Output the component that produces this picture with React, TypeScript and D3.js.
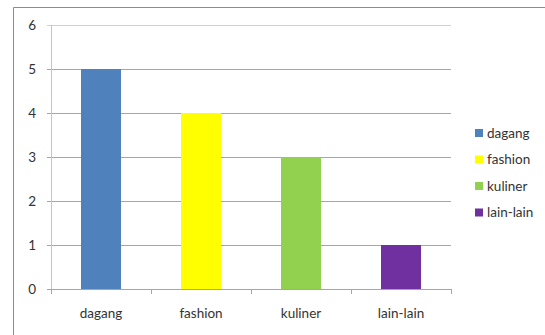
import React from "react";
import * as d3 from "d3";

const categories = ["dagang", "fashion", "kuliner", "lain-lain"];
const values = [5, 4, 3, 1];
const colors = ["#4F81BD", "#FFFF00", "#92D050", "#7030A0"];
const yTicks = [0, 1, 2, 3, 4, 5, 6];

const W = 545;
const H = 335;
const plot = { left: 51, right: 451, top: 25, bottom: 289 };
const FONT = "Lato, 'Open Sans', sans-serif";
const FS = 13.5;
const TEXT = "#333";

export default function App() {
  const x = d3
    .scaleBand<string>()
    .domain(categories)
    .range([plot.left, plot.right])
    .paddingInner(0.6)
    .paddingOuter(0.3);
  const band = d3.scaleBand<string>().domain(categories).range([plot.left, plot.right]);
  const y = d3.scaleLinear().domain([0, 6]).range([plot.bottom, plot.top]);

  const legendY = d3.scalePoint<string>().domain(categories).range([133, 212.5]);

  return (
    <svg
      width={W}
      height={H}
      style={{ position: "absolute", left: 0, top: 0, background: "#fff" }}
    >
      {/* chart frame */}
      <line x1={13.5} x2={W} y1={7.5} y2={7.5} stroke="#8c8c8c" />
      <line x1={13.5} x2={13.5} y1={7.5} y2={H} stroke="#8c8c8c" />

      {/* gridlines */}
      {yTicks.map((t) => (
        <line
          key={"g" + t}
          x1={plot.left - 4}
          x2={plot.right}
          y1={Math.round(y(t)) + 0.5}
          y2={Math.round(y(t)) + 0.5}
          stroke={t === 6 ? "#d0d0d0" : "#a6a6a6"}
        />
      ))}
      {/* y axis */}
      <line
        x1={plot.left + 0.5}
        x2={plot.left + 0.5}
        y1={plot.top}
        y2={plot.bottom + 1}
        stroke="#c4c4c4"
      />
      {/* x axis ticks */}
      {[...categories.map((c) => band(c) as number), plot.right].map((px, i) => (
        <line
          key={"xt" + i}
          x1={Math.round(px) + 0.5}
          x2={Math.round(px) + 0.5}
          y1={plot.bottom}
          y2={plot.bottom + 5}
          stroke="#a6a6a6"
        />
      ))}

      {/* bars */}
      {categories.map((c, i) => (
        <rect
          key={c}
          x={x(c)}
          y={y(values[i])}
          width={x.bandwidth()}
          height={y(0) - y(values[i])}
          fill={colors[i]}
        />
      ))}

      {/* y tick labels */}
      {yTicks.map((t) => (
        <text
          key={"yl" + t}
          x={36}
          y={y(t)}
          dy="0.35em"
          textAnchor="end"
          fontFamily={FONT}
          fontSize={FS}
          fill={TEXT}
        >
          {t}
        </text>
      ))}

      {/* category labels */}
      {categories.map((c) => (
        <text
          key={"xl" + c}
          x={(band(c) as number) + band.bandwidth() / 2}
          y={318}
          textAnchor="middle"
          fontFamily={FONT}
          fontSize={FS}
          fill={TEXT}
        >
          {c}
        </text>
      ))}

      {/* legend */}
      {categories.map((c, i) => (
        <g key={"lg" + c} transform={`translate(475, ${legendY(c)})`}>
          <rect x={0} y={-4} width={8} height={8} fill={colors[i]} />
          <text x={12} y={0} dy="0.35em" fontFamily={FONT} fontSize={FS} fill={TEXT}>
            {c}
          </text>
        </g>
      ))}
    </svg>
  );
}
